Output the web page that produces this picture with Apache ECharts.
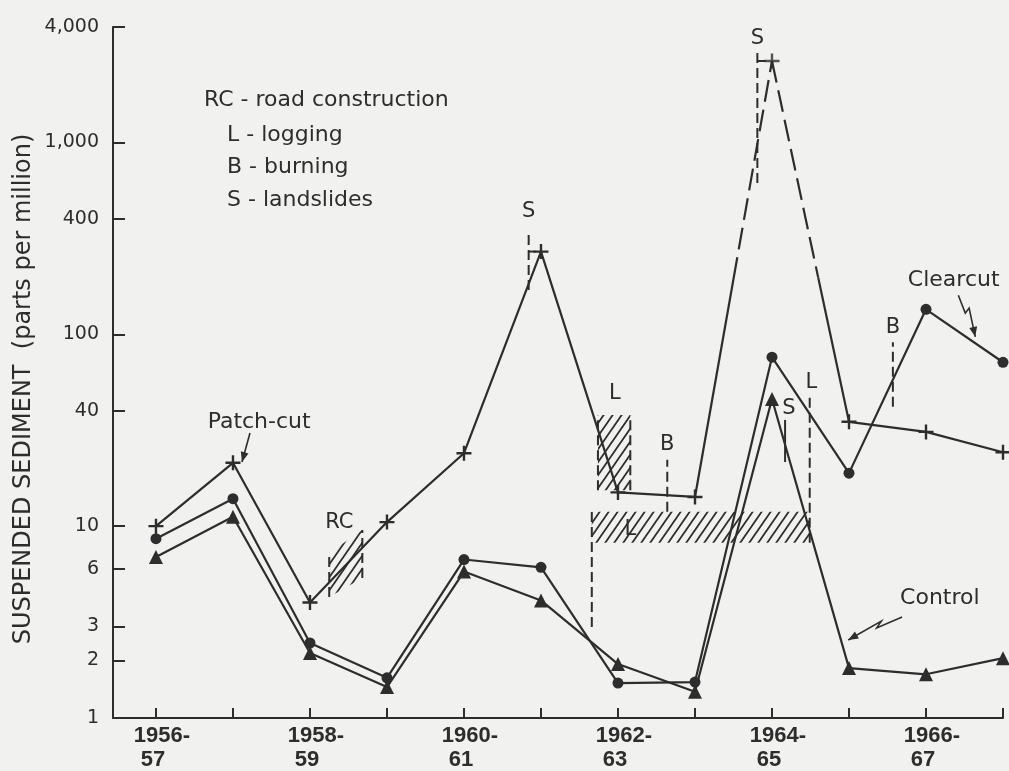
<!DOCTYPE html>
<html>
<head>
<meta charset="utf-8">
<script src="https://cdn.jsdelivr.net/npm/echarts@6/dist/echarts.min.js"></script>
<style>
  html, body { margin: 0; padding: 0; background: #f1f1ef; }
  #chart { width: 1009px; height: 771px; }
</style>
</head>
<body>
<div id="chart"></div>
<script>
// water years, one point each
var years = ["1956-57", "1957-58", "1958-59", "1959-60", "1960-61", "1961-62",
  "1962-63", "1963-64", "1964-65", "1965-66", "1966-67", "1967-68"];
var labelIdx = [0, 2, 4, 6, 8, 10];
var yTicks = [1, 2, 3, 6, 10, 40, 100, 400, 1000, 4000];

// suspended sediment, ppm
var patchCut = [10, 21.4, 4.0, 10.5, 24, 270, 15, 14.2, 2660, 35, 31, 24.3];
var clearcut = [8.6, 13.9, 2.46, 1.62, 6.7, 6.1, 1.52, 1.54, 76, 18.9, 135, 71.5];
var control = [6.9, 11.2, 2.18, 1.45, 5.8, 4.1, 1.91, 1.37, 46, 1.82, 1.69, 2.05];

var ink = "#2d2d2d";
var plusPath = "path://M4.2,0h1.6v4.2h4.2v1.6h-4.2v4.2h-1.6v-4.2h-4.2v-1.6h4.2z";

function pairs(arr) {
  return arr.map(function(v, i) { return [i, v]; });
}

function makeHatch() {
  var cv = document.createElement("canvas");
  cv.width = 9;
  cv.height = 13;
  var ctx = cv.getContext("2d");
  ctx.strokeStyle = ink;
  ctx.lineWidth = 1.8;
  ctx.beginPath();
  ctx.moveTo(0, 13); ctx.lineTo(9, 0);
  ctx.moveTo(-1, 1.5); ctx.lineTo(1, -1.5);
  ctx.moveTo(8, 14.5); ctx.lineTo(10, 11.5);
  ctx.stroke();
  return cv;
}
var hatch = { image: makeHatch(), repeat: "repeat" };

function renderNotes(params, api) {
  if (params.dataIndex !== 0) return;
  var c = function(x, v) { return api.coord([x, v]); };
  var kids = [];
  function seg(a, b, dash, w) {
    kids.push({
      type: "line",
      shape: { x1: a[0], y1: a[1], x2: b[0], y2: b[1] },
      style: { stroke: ink, lineWidth: w || 2, lineDash: dash || null }
    });
  }
  function vdash(x, v1, v2) { seg(c(x, v1), c(x, v2), [10, 5]); }
  function txt(s, x, v, size) {
    var p = c(x, v);
    kids.push({
      type: "text", x: p[0], y: p[1],
      style: { text: s, fill: ink, font: (size || 21) + 'px "DejaVu Sans"', align: "center", verticalAlign: "middle" }
    });
  }
  function poly(pts) {
    kids.push({
      type: "polygon",
      shape: { points: pts.map(function(p) { return c(p[0], p[1]); }) },
      style: { fill: hatch, stroke: null }
    });
  }
  function arrow(pts) {
    var px = pts.map(function(p) { return c(p[0], p[1]); });
    kids.push({ type: "polyline", shape: { points: px }, style: { stroke: ink, lineWidth: 1.6, fill: null } });
    var a = px[px.length - 2], b = px[px.length - 1];
    var ang = Math.atan2(b[1] - a[1], b[0] - a[0]);
    var L = 10, W = 4;
    var bx = b[0] - L * Math.cos(ang), by = b[1] - L * Math.sin(ang);
    kids.push({
      type: "polygon",
      shape: { points: [b, [bx + W * Math.sin(ang), by - W * Math.cos(ang)], [bx - W * Math.sin(ang), by + W * Math.cos(ang)]] },
      style: { fill: ink }
    });
  }
  function lerp(a, b, t) { return [a[0] + (b[0] - a[0]) * t, a[1] + (b[1] - a[1]) * t]; }

  // patch-cut peak: upper part of both segments is dashed
  var p7 = c(7, patchCut[7]), p8 = c(8, patchCut[8]), p9 = c(9, patchCut[9]);
  var m1 = lerp(p7, p8, 0.5), m2 = lerp(p8, p9, 0.6);
  seg(p7, m1, null, 2.2);
  seg(m1, p8, [22, 8], 2.2);
  seg(p8, m2, [22, 8], 2.2);
  seg(m2, p9, null, 2.2);

  // hatched periods
  poly([[2.25, 4.27], [2.25, 7.24], [2.68, 9.54], [2.68, 5.37]]);
  poly([[5.74, 15.4], [5.74, 38], [6.16, 38], [6.16, 15.4]]);
  poly([[5.66, 8.2], [5.66, 11.9], [8.49, 11.9], [8.49, 8.2]]);

  // dashed event markers
  vdash(2.25, 4.27, 7.24);
  vdash(2.68, 5.37, 9.54);
  vdash(4.84, 170, 350);
  seg(c(4.84, patchCut[5]), c(4.93, patchCut[5]));
  vdash(7.81, 615, 2930);
  seg(c(7.81, patchCut[8]), c(7.92, patchCut[8]));
  seg(c(8.17, 21.6), c(8.17, 35.8));
  vdash(6.64, 11.9, 22.2);
  vdash(9.57, 41.9, 91);
  vdash(8.49, 8.2, 47);
  vdash(5.66, 2.98, 11.9);
  vdash(5.74, 15.4, 38);
  vdash(6.16, 15.4, 38);

  txt("S", 4.84, 435);
  txt("S", 7.81, 3470);
  txt("S", 8.22, 41);
  txt("B", 6.64, 26.5);
  txt("B", 9.57, 108);
  txt("L", 5.96, 49.3);
  txt("L", 6.16, 9.55);
  txt("L", 8.51, 56);
  txt("RC", 2.38, 10.5);
  txt("Patch-cut", 1.34, 34.9, 22);
  txt("Clearcut", 10.36, 192, 22);
  txt("Control", 10.18, 4.22, 22);

  arrow([[1.221, 30.6], [1.117, 21.6]]);
  arrow([[10.42, 160], [10.51, 129], [10.56, 137], [10.64, 97]]);
  arrow([[9.69, 3.36], [9.36, 2.95], [9.42, 3.2], [8.99, 2.55]]);

  return { type: "group", children: kids };
}

var chart = echarts.init(document.getElementById("chart"));

function lineSeries(name, arr, symbol, size) {
  return {
    name: name,
    type: "line",
    data: arr,
    symbol: symbol,
    symbolSize: size,
    showAllSymbol: true,
    clip: false,
    z: 3,
    lineStyle: { color: ink, width: 2.2 },
    itemStyle: { color: ink }
  };
}

chart.setOption({
  animation: false,
  backgroundColor: "#f1f1ef",
  grid: { left: 113, right: 6, top: 27, bottom: 53 },
  xAxis: {
    type: "value",
    min: -0.558,
    max: 11,
    axisLine: { onZero: false, lineStyle: { color: ink, width: 2 } },
    axisTick: {
      inside: true, length: 10,
      customValues: years.map(function(y, i) { return i; }),
      lineStyle: { color: ink, width: 2 }
    },
    splitLine: { show: false },
    axisLabel: {
      customValues: labelIdx,
      margin: 6,
      formatter: function(v) {
        var parts = years[v].split("-");
        return "{a|" + parts[0] + "-}\n{b|" + parts[1] + "}";
      },
      rich: {
        a: { fontFamily: "Liberation Sans", fontWeight: "bold", fontSize: 22, color: ink, lineHeight: 24, padding: [0, 0, 0, 12] },
        b: { fontFamily: "Liberation Sans", fontWeight: "bold", fontSize: 22, color: ink, lineHeight: 24, padding: [0, 6, 0, 0] }
      }
    }
  },
  yAxis: {
    type: "log",
    logBase: 10,
    min: 1,
    max: 4000,
    axisLine: { show: true, onZero: false, lineStyle: { color: ink, width: 2 } },
    axisTick: {
      show: true, inside: true, length: 12,
      customValues: yTicks,
      lineStyle: { color: ink, width: 2 }
    },
    splitLine: { show: false },
    axisLabel: {
      customValues: yTicks,
      margin: 14,
      color: ink,
      fontFamily: "DejaVu Sans",
      fontSize: 19,
      formatter: function(v) {
        return String(Math.round(v)).replace(/\B(?=(\d{3})+(?!\d))/g, ",");
      }
    }
  },
  graphic: [
    { type: "text", x: 204, y: 100, style: { text: "RC - road construction", font: '22px "DejaVu Sans"', fill: ink, verticalAlign: "middle" } },
    { type: "text", x: 227, y: 135, style: { text: "L - logging", font: '22px "DejaVu Sans"', fill: ink, verticalAlign: "middle" } },
    { type: "text", x: 227, y: 167, style: { text: "B - burning", font: '22px "DejaVu Sans"', fill: ink, verticalAlign: "middle" } },
    { type: "text", x: 227, y: 200, style: { text: "S - landslides", font: '22px "DejaVu Sans"', fill: ink, verticalAlign: "middle" } },
    {
      type: "text", x: 24, y: 389, rotation: Math.PI / 2,
      style: { text: "SUSPENDED SEDIMENT  (parts per million)", font: '24px "DejaVu Sans"', fill: ink, align: "center", verticalAlign: "middle" }
    }
  ],
  series: [
    lineSeries("Patch-cut", pairs(patchCut).map(function(p) { return p[0] === 8 ? [8, "-"] : p; }), plusPath, 15),
    {
      name: "Patch-cut peak",
      type: "scatter",
      data: [[8, patchCut[8]]],
      symbol: plusPath,
      symbolSize: 15,
      clip: false,
      z: 3,
      itemStyle: { color: ink }
    },
    lineSeries("Clearcut", pairs(clearcut), "circle", 11),
    lineSeries("Control", pairs(control), "triangle", 14),
    {
      name: "notes",
      type: "custom",
      clip: false,
      z: 2,
      silent: true,
      data: [[0, 1]],
      renderItem: renderNotes
    }
  ]
});
</script>
</body>
</html>
